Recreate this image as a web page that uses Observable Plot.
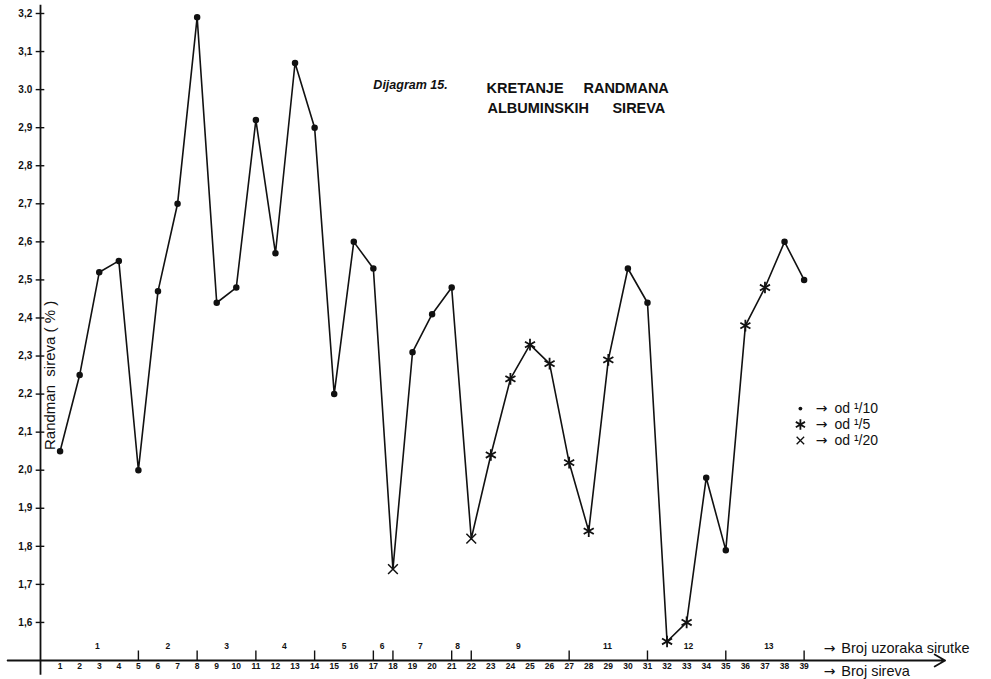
<!DOCTYPE html>
<html>
<head>
<meta charset="utf-8">
<script src="https://cdn.jsdelivr.net/npm/d3@7"></script>
<script src="https://cdn.jsdelivr.net/npm/@observablehq/plot@0.6"></script>
<style>
  html, body { margin: 0; padding: 0; background: #fff; }
  svg { display: block; }
</style>
</head>
<body>
<div id="chart"></div>
<script>
// ---- data ----
const cheeseNo = d3.range(1, 40);
const yieldPct = [2.05, 2.25, 2.52, 2.55, 2.00, 2.47, 2.70, 3.19, 2.44, 2.48,
                  2.92, 2.57, 3.07, 2.90, 2.20, 2.60, 2.53, 1.74, 2.31, 2.41,
                  2.48, 1.82, 2.04, 2.24, 2.33, 2.28, 2.02, 1.84, 2.29, 2.53,
                  2.44, 1.55, 1.60, 1.98, 1.79, 2.38, 2.48, 2.60, 2.50];
const dilution = ["1/10","1/10","1/10","1/10","1/10","1/10","1/10","1/10","1/10","1/10",
                  "1/10","1/10","1/10","1/10","1/10","1/10","1/10","1/20","1/10","1/10",
                  "1/10","1/20","1/5","1/5","1/5","1/5","1/5","1/5","1/5","1/10",
                  "1/10","1/5","1/5","1/10","1/10","1/5","1/5","1/10","1/10"];
const yTickValues = [1.6,1.7,1.8,1.9,2.0,2.1,2.2,2.3,2.4,2.5,2.6,2.7,2.8,2.9,3.0,3.1,3.2];
const yTickLabels = ["1,6","1,7","1,8","1,9","2,0","2,1","2,2","2,3","2,4","2,5","2,6","2,7","2,8","2,9","3.0","3,1","3,2"];
const sampleLabels = ["1","2","3","4","5","6","7","8","9","11","12","13"];
const sampleLabelPos = [2.9, 6.5, 9.5, 12.46, 15.5, 17.45, 19.4, 21.3, 24.4, 28.96, 33.1, 37.2];
const sampleBounds = [5, 8, 11, 14, 17, 18, 21, 22, 27, 31, 35, 39];
const legendSymbols = ["circle", "asterisk", "times"];
const legendLabels = ["od ¹/10", "od ¹/5", "od ¹/20"];
const captions = ["Broj uzoraka sirutke", "Broj sireva"];

const data = cheeseNo.map((n, i) => ({n, v: yieldPct[i], d: dilution[i]}));
const yTicks = yTickValues.map((v, i) => ({v, label: yTickLabels[i]}));
const samples = sampleLabels.map((s, i) => ({s, x: sampleLabelPos[i]}));
const legend = legendLabels.map((t, i) => ({t, sym: legendSymbols[i], row: i}));
const caps = captions.map((t, i) => ({t, row: i}));

const FONT = "Liberation Sans, Arial, sans-serif";
const ARROWFONT = "DejaVu Sans, sans-serif";
const legendY = [2.162, 2.120, 2.078];
const capY = [1.532, 1.471];

const chart = Plot.plot({
  width: 991,
  height: 679,
  marginLeft: 40,
  marginRight: 0,
  marginTop: 13,
  marginBottom: 19,
  style: {fontFamily: FONT, background: "#fff", overflow: "visible"},
  x: {domain: [0, 48.57], axis: null},
  y: {domain: [1.5, 3.2], axis: null},
  marks: [
    // y axis line
    Plot.ruleX([0], {y1: 1.461, y2: 3.222, stroke: "#111", strokeWidth: 1.8}),
    // x axis with arrow
    Plot.arrow([0], {x1: -1.68, x2: 46.2, y1: 1.5, y2: 1.5, stroke: "#111", strokeWidth: 1.8, headLength: 10, bend: 0}),
    // y tick crosses
    Plot.ruleY(yTicks, {y: "v", x1: -0.22, x2: 0.22, stroke: "#111", strokeWidth: 1.4}),
    Plot.text(yTicks, {y: "v", x: -0.42, text: "label", textAnchor: "end", fontWeight: "bold", fontSize: 10, fill: "#111"}),
    // x tick labels
    Plot.text(data, {x: "n", y: 1.484, text: d => String(d.n), fontWeight: "bold", fontSize: 8.5, fill: "#111"}),
    // sample group boundaries and labels
    Plot.ruleX(sampleBounds, {y1: 1.5, y2: 1.525, stroke: "#111", strokeWidth: 1.4}),
    Plot.text(samples, {x: "x", y: 1.537, text: "s", fontWeight: "bold", fontSize: 8.5, fill: "#111"}),
    // the series
    Plot.line(data, {x: "n", y: "v", stroke: "#111", strokeWidth: 1.6}),
    Plot.dot(data.filter(d => d.d === "1/10"), {x: "n", y: "v", r: 2.5, fill: "#111", stroke: "#111", symbol: "circle"}),
    Plot.dot(data.filter(d => d.d === "1/5"), {x: "n", y: "v", r: 5.5, stroke: "#111", strokeWidth: 1.8, symbol: "asterisk"}),
    Plot.dot(data.filter(d => d.d === "1/20"), {x: "n", y: "v", r: 4.5, stroke: "#111", strokeWidth: 1.5, symbol: "times"}),
    // legend
    Plot.dot(legend.filter(d => d.sym === "circle"), {x: 38.81, y: d => legendY[d.row], r: 1.9, fill: "#111", symbol: "circle"}),
    Plot.dot(legend.filter(d => d.sym === "asterisk"), {x: 38.81, y: d => legendY[d.row], r: 5, stroke: "#111", strokeWidth: 1.8, symbol: "asterisk"}),
    Plot.dot(legend.filter(d => d.sym === "times"), {x: 38.81, y: d => legendY[d.row], r: 3.5, stroke: "#111", strokeWidth: 1.3, symbol: "times"}),
    Plot.text(legend, {x: 39.6, y: d => legendY[d.row], text: () => "→", textAnchor: "start", fontFamily: ARROWFONT, fontSize: 14, fill: "#111"}),
    Plot.text(legend, {x: 40.55, y: d => legendY[d.row], text: "t", textAnchor: "start", fontSize: 14, fill: "#111"}),
    // axis captions
    Plot.text(caps, {x: 40.0, y: d => capY[d.row], text: () => "→", textAnchor: "start", fontFamily: ARROWFONT, fontSize: 14, fill: "#111"}),
    Plot.text(caps, {x: 40.9, y: d => capY[d.row], text: "t", textAnchor: "start", fontSize: 14.5, fill: "#111"}),
    Plot.text(["Randman  sireva ( % )"], {x: 0.5, y: 2.249, text: d => d, rotate: -90, fontSize: 15, fill: "#111"}),
    // title
    Plot.text(["Dijagram 15."], {x: 17.0, y: 3.012, text: d => d, textAnchor: "start", fontStyle: "italic", fontWeight: "bold", fontSize: 12.5, fill: "#111"}),
    Plot.text(["KRETANJE"], {x: 22.78, y: 3.003, text: d => d, textAnchor: "start", fontWeight: "bold", fontSize: 14.5, fill: "#111"}),
    Plot.text(["RANDMANA"], {x: 27.73, y: 3.003, text: d => d, textAnchor: "start", fontWeight: "bold", fontSize: 14.5, fill: "#111"}),
    Plot.text(["ALBUMINSKIH"], {x: 22.83, y: 2.950, text: d => d, textAnchor: "start", fontWeight: "bold", fontSize: 14.5, fill: "#111"}),
    Plot.text(["SIREVA"], {x: 29.21, y: 2.950, text: d => d, textAnchor: "start", fontWeight: "bold", fontSize: 14.5, fill: "#111"})
  ]
});
document.getElementById("chart").append(chart);
</script>
</body>
</html>
